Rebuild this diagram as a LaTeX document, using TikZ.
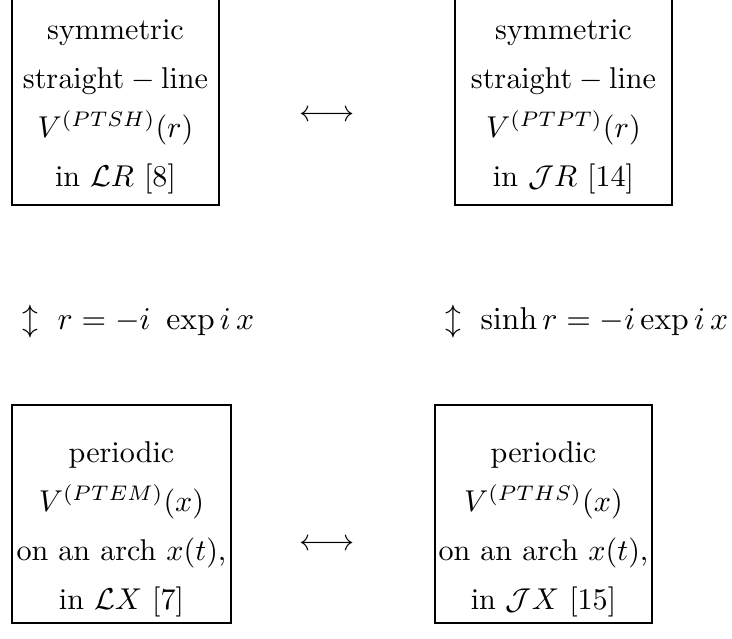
\documentclass[tikz,border=0pt]{standalone}
\usepackage{graphicx}
\begin{document}
\begin{tikzpicture}[x=0.332pt,y=-0.332pt,
  boxline/.style={line width=0.95pt},
  boxtext/.style={align=center,inner sep=0pt,font=\fontsize{10}{16.3}\selectfont},
  symb/.style={inner sep=0pt},
  midlabel/.style={inner sep=0pt,anchor=west}]
\useasboundingbox (0,0) rectangle (732,638);
\clip (0,0) rectangle (732,638);
% boxes
\draw[boxline] (12,-10) rectangle (219,205);
\draw[boxline] (455,-10) rectangle (672,205);
\draw[boxline] (12,405) rectangle (231,623);
\draw[boxline] (435,405) rectangle (652,623);
% texts
\node[boxtext] (tl) at (115.5,107) {symmetric\\ $\mathrm{straight}-\mathrm{line}$\\ $V^{(PTSH)}(r)$\\ in $\mathcal{L}R$ [8]};
\node[boxtext] (tr) at (563.5,107) {symmetric\\ $\mathrm{straight}-\mathrm{line}$\\ $V^{(PTPT)}(r)$\\ in $\mathcal{J}R$ [14]};
\node[boxtext] (bl) at (121.5,529.5) {periodic\\ $V^{(PTEM)}(x)$\\ on an arch $x(t)$,\\ in $\mathcal{L}X$ [7]};
\node[boxtext] (br) at (543.5,529.5) {periodic\\ $V^{(PTHS)}(x)$\\ on an arch $x(t)$,\\ in $\mathcal{J}X$ [15]};
% arrows as symbols
\node[symb] (ha) at (327,116) {$\longleftrightarrow$};
\node[symb] (hb) at (327,545) {$\longleftrightarrow$};
\node[midlabel] (vl) at (22,322) {\scalebox{1.05}{$\updownarrow\ r=-i\ \exp i\,x$}};
\node[midlabel] (vr) at (445,322) {\scalebox{1.05}{$\updownarrow\ \sinh r=-i\exp i\,x$}};
\end{tikzpicture}
\end{document}
